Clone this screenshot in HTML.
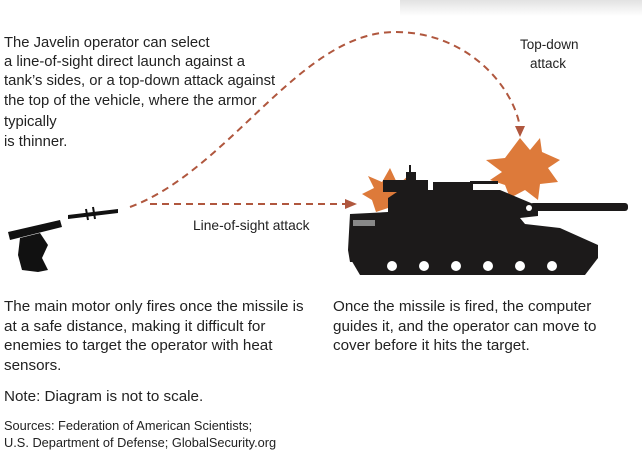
<!DOCTYPE html>
<html><head><meta charset="utf-8"><style>
html,body{margin:0;padding:0;background:#fff;}
svg{display:block;}
text{font-family:"Liberation Sans",sans-serif;fill:#222;}
</style></head><body>
<svg width="642" height="467" viewBox="0 0 642 467" xmlns="http://www.w3.org/2000/svg">
<defs>
<linearGradient id="sh" x1="0" y1="0" x2="0" y2="1"><stop offset="0" stop-color="#e2e2e2"/><stop offset="1" stop-color="#fff"/></linearGradient>
</defs>
<rect x="400" y="0" width="242" height="16" fill="url(#sh)"/>
<g font-size="14.8">
<text x="4" y="47">The Javelin operator can select</text>
<text x="4" y="66">a line-of-sight direct launch against a</text>
<text x="4" y="85">tank’s sides, or a top-down attack against</text>
<text x="4" y="105">the top of the vehicle, where the armor</text>
<text x="4" y="126">typically</text>
<text x="4" y="146">is thinner.</text>
<text x="520" y="49" font-size="13.5">Top-down</text>
<text x="530" y="68" font-size="13.5">attack</text>
<text x="193" y="230" font-size="13.8">Line-of-sight attack</text>
<text x="4" y="311" font-size="15.2">The main motor only fires once the missile is</text>
<text x="4" y="331" font-size="15.2">at a safe distance, making it difficult for</text>
<text x="4" y="350" font-size="15.2">enemies to target the operator with heat</text>
<text x="4" y="370" font-size="15.2">sensors.</text>
<text x="4" y="401" font-size="15.2">Note: Diagram is not to scale.</text>
<text x="333" y="311" font-size="15.2">Once the missile is fired, the computer</text>
<text x="333" y="331" font-size="15.2">guides it, and the operator can move to</text>
<text x="333" y="350" font-size="15.2">cover before it hits the target.</text>
<text x="4" y="430" font-size="12.8">Sources: Federation of American Scientists;</text>
<text x="4" y="447" font-size="12.8">U.S. Department of Defense; GlobalSecurity.org</text>
</g>
<g stroke="#b0573e" stroke-width="2" fill="none" stroke-dasharray="7,5">
<path d="M130 207 C 230 170, 300 32, 395 32 C 470 32, 515 90, 520 128"/>
<path d="M150 204 L350 204"/>
</g>
<polygon points="357,204 345,199 345,209" fill="#b0573e"/>
<polygon points="520,137 515,126 525,126" fill="#b0573e"/>
<g fill="#111">
<path d="M8 232 L60 220 L62 227 L10 240 Z"/>
<path d="M20 238 L40 233 L48 245 L42 258 L48 270 L38 272 L22 270 L18 255 Z"/>
<path d="M68 215 L118 209 L118 213 L68 219 Z"/>
<path d="M93 207 L95 219 M86 209 L88 220" stroke="#111" stroke-width="2"/>
</g>
<g fill="#dd7a3a">
<polygon points="390,168 398,185 410,174 405,190 420,198 402,204 405,214 388,208 376,212 372,200 362,194 374,188 368,176 382,182"/>
<polygon points="520,138 530,150 540,138 542,152 560,160 548,168 558,182 540,184 538,200 525,190 510,198 505,185 490,180 502,172 486,160 505,158"/>
</g>
<g fill="#1c1a1a">
<rect x="406" y="172" width="10" height="8"/>
<rect x="383" y="180" width="45" height="12"/>
<rect x="433" y="182" width="40" height="10"/>
<rect x="470" y="181" width="28" height="3"/>
<rect x="409" y="165" width="2" height="20"/>
<path d="M388 198 L400 190 L500 190 L538 206 L538 216 L520 218 L525 224 L560 228 L598 245 L598 258 L590 262 L350 262 L348 250 L350 214 L388 212 Z"/>
<rect x="530" y="203" width="98" height="8" rx="3"/>
<path d="M350 258 L598 258 L585 275 L360 275 Z"/>
</g>
<circle cx="529" cy="208" r="3" fill="#fff"/>
<rect x="353" y="220" width="22" height="6" fill="#888"/>
<g fill="#fff">
<circle cx="392" cy="266" r="5"/><circle cx="424" cy="266" r="5"/><circle cx="456" cy="266" r="5"/><circle cx="488" cy="266" r="5"/><circle cx="520" cy="266" r="5"/><circle cx="552" cy="266" r="5"/>
</g>
</svg>
</body></html>
